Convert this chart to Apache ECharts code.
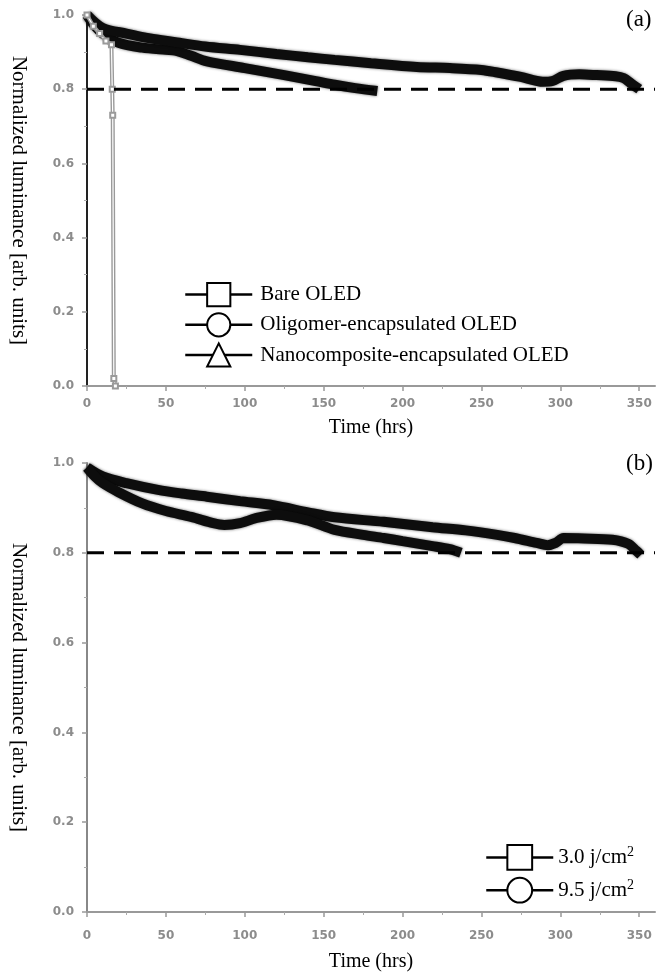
<!DOCTYPE html>
<html>
<head>
<meta charset="utf-8">
<script src="https://cdn.jsdelivr.net/npm/echarts@6/dist/echarts.min.js"></script>
<style>
html, body { margin: 0; padding: 0; background: #fff; }
#chart { width: 659px; height: 973px; }
</style>
</head>
<body>
<div id="chart"></div>
<script>
// tick labels
var xTicks = [0, 50, 100, 150, 200, 250, 300, 350];
var limit = 0.8;
var limitTime = [0, 360];

// (a) bare OLED
var bareTime = [0, 4, 8, 12, 15.5, 16, 16.3, 17, 18];
var bareLum = [1.0, 0.97, 0.95, 0.93, 0.92, 0.80, 0.73, 0.02, 0.0];

// (a) oligomer-encapsulated
var oligoTime = [0, 5, 10, 20, 35, 50, 56, 66, 76, 100, 125, 145, 157, 170, 184];
var oligoLum = [1.0, 0.97, 0.95, 0.925, 0.912, 0.906, 0.904, 0.89, 0.875, 0.857, 0.838, 0.822, 0.812, 0.803, 0.795];

// (a) nanocomposite-encapsulated
var nanoTime = [0, 10, 25, 40, 56, 75, 97, 120, 140, 157, 180, 209, 230, 250, 260, 275, 289, 295, 302, 312, 323, 335, 340, 345, 350];
var nanoLum = [1.0, 0.965, 0.95, 0.937, 0.927, 0.915, 0.906, 0.895, 0.886, 0.879, 0.87, 0.86, 0.857, 0.852, 0.845, 0.833, 0.82, 0.822, 0.836, 0.84, 0.838, 0.835, 0.83, 0.815, 0.80];

// (b) 3.0 j/cm2
var dose3Time = [0, 10, 25, 45, 60, 76, 97, 118, 140, 157, 188, 219, 240, 260, 271, 285, 292, 297, 302, 315, 333, 343, 348, 351];
var dose3Lum = [0.99, 0.97, 0.955, 0.94, 0.932, 0.925, 0.915, 0.906, 0.89, 0.879, 0.869, 0.857, 0.85, 0.84, 0.833, 0.822, 0.817, 0.822, 0.833, 0.832, 0.829, 0.82, 0.805, 0.795];

// (b) 9.5 j/cm2
var dose9Time = [0, 5, 10, 20, 35, 50, 66, 80, 87, 97, 107, 120, 140, 157, 175, 188, 200, 219, 230, 237];
var dose9Lum = [0.99, 0.97, 0.955, 0.935, 0.91, 0.893, 0.88, 0.866, 0.862, 0.866, 0.877, 0.885, 0.872, 0.851, 0.84, 0.833, 0.826, 0.815, 0.808, 0.80];

function pairs(xs, ys) {
    var out = [];
    for (var i = 0; i < xs.length; i++) {
        out.push([xs[i], ys[i]]);
    }
    return out;
}

var serif = '"Liberation Serif", "DejaVu Serif", serif';
var tickFont = { color: '#8c8c8c', fontSize: 12, fontWeight: 'bold', fontFamily: '"DejaVu Sans", sans-serif' };

function xAxisFor(idx, labelGap, nameGap) {
    return {
        type: 'value', gridIndex: idx, min: 0, max: 360, interval: 50,
        name: 'Time (hrs)', nameLocation: 'middle', nameGap: nameGap,
        nameTextStyle: { fontFamily: serif, fontSize: 20, color: '#000' },
        axisLine: { show: true, lineStyle: { color: '#999', width: 2 } },
        axisTick: { show: true, length: 5, customValues: xTicks, lineStyle: { color: '#999', width: 1.5 } },
        minorTick: { show: true, splitNumber: 2, length: 3, lineStyle: { color: '#aaa' } },
        axisLabel: Object.assign({ margin: labelGap, customValues: xTicks }, tickFont),
        splitLine: { show: false }
    };
}

function yAxisFor(idx, lineColor) {
    return {
        type: 'value', gridIndex: idx, min: 0, max: 1.0, interval: 0.2,
        name: 'Normalized luminance [arb. units]', nameLocation: 'middle', nameRotate: -90, nameGap: 58,
        nameTextStyle: { fontFamily: serif, fontSize: 21, color: '#000' },
        axisLine: { show: true, lineStyle: { color: lineColor, width: 2 } },
        axisTick: { show: true, length: 5, lineStyle: { color: '#999', width: 1.5 } },
        minorTick: { show: true, splitNumber: 2, length: 3, lineStyle: { color: '#aaa' } },
        axisLabel: Object.assign({
            margin: 13,
            formatter: function (v) { return v.toFixed(1); }
        }, tickFont),
        splitLine: { show: false }
    };
}

// thick speckled-looking band
function band(name, symbol, idx, xs, ys) {
    return {
        name: name, type: 'line', xAxisIndex: idx, yAxisIndex: idx,
        data: pairs(xs, ys), symbol: symbol, showSymbol: false, smooth: 0.3,
        clip: false,
        lineStyle: { color: '#0d0d0d', width: 10, shadowBlur: 3, shadowColor: 'rgba(0,0,0,0.6)' },
        itemStyle: { color: '#0d0d0d' }, z: 3
    };
}

function limitLine(idx) {
    return {
        type: 'line', xAxisIndex: idx, yAxisIndex: idx, silent: true,
        data: pairs(limitTime, [limit, limit]), symbol: 'none', clip: false,
        lineStyle: { color: '#000', width: 3, type: [17, 10] }, z: 5
    };
}

var chart = echarts.init(document.getElementById('chart'));
var option = {
    animation: false,
    backgroundColor: '#fff',
    title: [
        { text: '(a)', left: 626, top: 8, padding: 0, textStyle: { fontFamily: serif, fontSize: 23, fontWeight: 'normal', color: '#000' } },
        { text: '(b)', left: 626, top: 452, padding: 0, textStyle: { fontFamily: serif, fontSize: 23, fontWeight: 'normal', color: '#000' } }
    ],
    grid: [
        { left: 77, top: 15, width: 578, height: 371 },
        { left: 77, top: 463, width: 578, height: 449 }
    ],
    xAxis: [xAxisFor(0, 12, 32), xAxisFor(1, 18, 40)],
    yAxis: [yAxisFor(0, '#222'), yAxisFor(1, '#888')],
    legend: [
        {
            data: ['Bare OLED', 'Oligomer-encapsulated OLED', 'Nanocomposite-encapsulated OLED'],
            orient: 'vertical', left: 184, top: 282, itemWidth: 67, itemHeight: 29, itemGap: 5,
            selectedMode: false, padding: 0,
            lineStyle: { color: '#000', width: 2.5, shadowBlur: 0 }, itemStyle: { color: '#000' },
            textStyle: { fontFamily: serif, fontSize: 21, color: '#000', padding: [0, 0, 0, 3] }
        },
        {
            data: ['3.0 j/cm2', '9.5 j/cm2'],
            orient: 'vertical', left: 485, top: 844, itemWidth: 67, itemHeight: 31, itemGap: 6,
            selectedMode: false, padding: 0,
            lineStyle: { color: '#000', width: 2.5, shadowBlur: 0 }, itemStyle: { color: '#000' },
            formatter: function (name) { return name.replace(/cm2$/, 'cm{sup|2}'); },
            textStyle: {
                fontFamily: serif, fontSize: 21, color: '#000', lineHeight: 24,
                rich: { sup: { fontFamily: serif, fontSize: 14, lineHeight: 15, verticalAlign: 'top', color: '#000' } }
            }
        }
    ],
    series: [
        {
            name: 'Bare OLED', type: 'line', xAxisIndex: 0, yAxisIndex: 0,
            data: pairs(bareTime, bareLum), symbol: 'emptyRect', symbolSize: 5, showSymbol: true,
            clip: false, lineStyle: { color: '#9a9a9a', width: 4 }, itemStyle: { color: '#9a9a9a' }, z: 4
        },
        {
            type: 'line', xAxisIndex: 0, yAxisIndex: 0, silent: true,
            data: pairs(bareTime, bareLum), symbol: 'none',
            clip: false, lineStyle: { color: '#fff', width: 1.2 }, z: 4
        },
        band('Oligomer-encapsulated OLED', 'emptyCircle', 0, oligoTime, oligoLum),
        band('Nanocomposite-encapsulated OLED', 'emptyTriangle', 0, nanoTime, nanoLum),
        limitLine(0),
        band('3.0 j/cm2', 'emptyRect', 1, dose3Time, dose3Lum),
        band('9.5 j/cm2', 'emptyCircle', 1, dose9Time, dose9Lum),
        limitLine(1)
    ]
};
chart.setOption(option);
</script>
</body>
</html>
